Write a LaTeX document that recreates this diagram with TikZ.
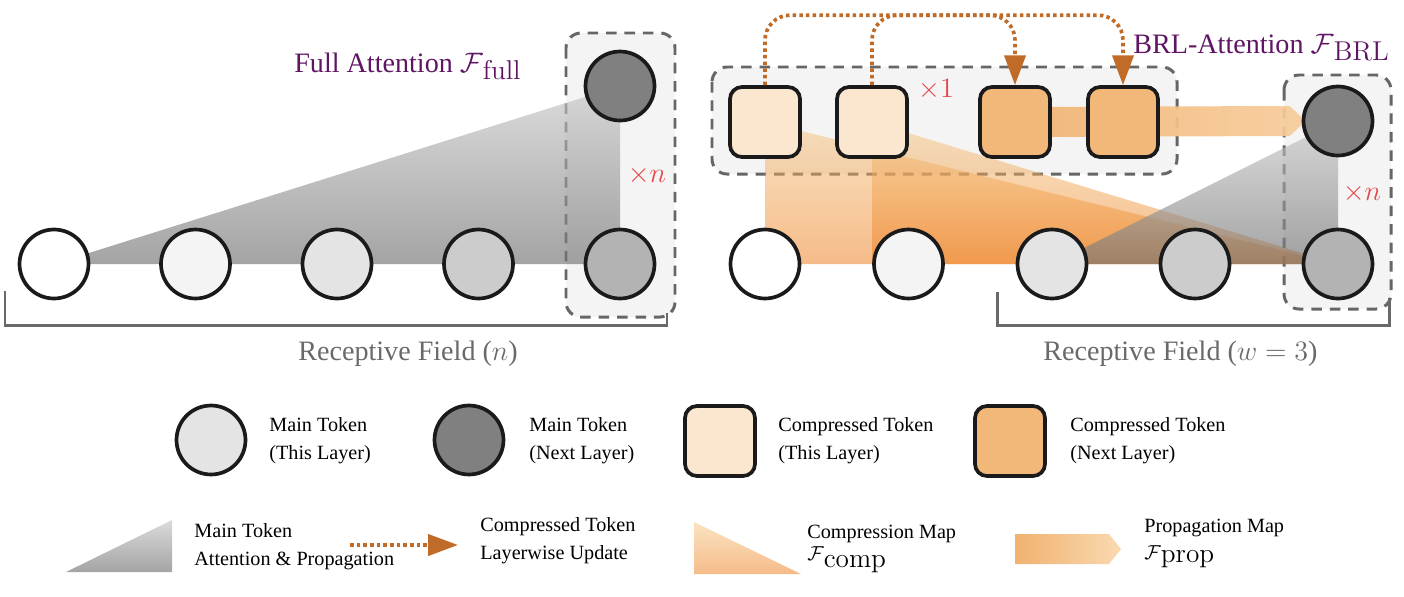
\RequirePackage{fix-cm}
\documentclass[tikz,border=0pt]{standalone}
\usepackage[no-math]{fontspec}
\setmainfont{Liberation Serif}
\usetikzlibrary{arrows.meta,calc}
\pgfdeclarelayer{bg}
\pgfsetlayers{bg,main}
\definecolor{pur}{RGB}{95,20,100}
\definecolor{redx}{RGB}{232,70,72}
\definecolor{rfgray}{RGB}{105,105,105}
\definecolor{boxbg}{RGB}{244,244,244}
\definecolor{boxline}{RGB}{102,102,102}
\definecolor{cthis}{RGB}{251,230,207}
\definecolor{cnext}{RGB}{242,184,122}
\definecolor{arr}{RGB}{192,108,40}
\definecolor{ink}{RGB}{26,26,26}
\definecolor{orTop}{RGB}{246,200,133}
\definecolor{orBot}{RGB}{236,120,20}
\definecolor{gyTop}{RGB}{200,200,200}
\definecolor{gyBot}{RGB}{115,115,115}
\definecolor{prL}{RGB}{240,178,112}
\definecolor{prR}{RGB}{247,204,155}
\definecolor{prR2}{RGB}{250,217,176}
\definecolor{g1}{RGB}{255,255,255}
\definecolor{g2}{RGB}{244,244,244}
\definecolor{g3}{RGB}{228,228,228}
\definecolor{g4}{RGB}{204,204,204}
\definecolor{g5}{RGB}{179,179,179}
\definecolor{g6}{RGB}{128,128,128}
\tikzset{
  tok/.style={circle, draw=ink, line width=2.1pt, minimum size=1.38cm, inner sep=0pt},
  ctok/.style={rectangle, rounded corners=0.24cm, draw=ink, line width=2.1pt, minimum size=1.4cm, inner sep=0pt},
  dbox/.style={draw=boxline, fill=boxbg, line width=1.7pt, dash pattern=on 6pt off 4.5pt, rounded corners=0.3cm},
  upd/.style={draw=arr, line width=2.1pt, dash pattern=on 2pt off 1.8pt, -{Triangle[length=17pt,width=12pt]}},
  cmap/.style={top color=orTop, bottom color=orBot, fill opacity=0.5},
  amap/.style={top color=gyTop, bottom color=gyBot, fill opacity=0.65},
  pmap/.style={left color=prL, right color=prR, fill opacity=0.92},
  brk/.style={draw=rfgray, line width=1.7pt},
  lbl/.style={font=\fontsize{16}{19}\selectfont, inner sep=0pt, anchor=base west},
  xlbl/.style={font=\fontsize{16}{18}\selectfont, text=redx, inner sep=0pt},
  leg/.style={font=\fontsize{11.5}{16}\selectfont, align=left, inner sep=0pt, anchor=west},
  legb/.style={font=\fontsize{11.5}{16}\selectfont, inner sep=0pt, anchor=base west}
}
\newcommand{\Fsub}[2]{$\mathcal{F}$\raisebox{-#2}{\fontsize{15.5}{16}\selectfont$\mathrm{#1}$}}
\begin{document}
\begin{tikzpicture}[x=0.02cm, y=-0.02cm]
\useasboundingbox (0,0) rectangle (1404,596);

% ---- left panel tokens
\node[tok, fill=g1] (l1) at (54,264) {};
\node[tok, fill=g2] (l2) at (195.5,264) {};
\node[tok, fill=g3] (l3) at (337,264) {};
\node[tok, fill=g4] (l4) at (478.5,264) {};
\node[tok, fill=g5] (l5) at (620,264) {};
\node[tok, fill=g6] (lt) at (620,86) {};

% ---- right panel tokens
\node[tok, fill=g1] (r1) at (765,264) {};
\node[tok, fill=g2] (r2) at (908.5,264) {};
\node[tok, fill=g3] (r3) at (1052,264) {};
\node[tok, fill=g4] (r4) at (1195,264) {};
\node[tok, fill=g5] (r5) at (1338,264) {};
\node[tok, fill=g6] (rt) at (1338,121) {};

\node[ctok, fill=cthis] (s1) at (765,122) {};
\node[ctok, fill=cthis] (s2) at (872,122) {};
\node[ctok, fill=cnext] (s3) at (1015,122) {};
\node[ctok, fill=cnext] (s4) at (1123,122) {};

\begin{pgfonlayer}{bg}
  \draw[dbox] (566,33) rectangle (675,317);
  \draw[dbox] (712,67) rectangle (1177,174);
  \draw[dbox] (1284,75) rectangle (1391,309);
  \shade[cmap] (s1.center) -- (r1.center) -- (r5.center) -- cycle;
  \shade[cmap] (s2.center) -- (s2.center |- r1.center) -- (r5.center) -- cycle;
  \shade[amap] (l1.center) -- (lt.center) -- (l5.center) -- cycle;
  \shade[amap] (r3.center) -- (rt.center) -- (r5.center) -- cycle;
  \shade[pmap] ($(s3.center)+(0,-15)$) -- ($(rt.west)+(-12,-15)$) -- ($(rt.west)+(4,0)$)
     -- ($(rt.west)+(-12,15)$) -- ($(s3.center)+(0,15)$) -- cycle;
\end{pgfonlayer}

% ---- layerwise update arrows
\draw[upd, rounded corners=0.5cm] (s1.north) |- ($(s3.north)+(0,-70)$) -- (s3.north);
\draw[upd, rounded corners=0.5cm] (s2.north) |- ($(s4.north)+(0,-70)$) -- (s4.north);

% ---- labels
\node[lbl, text=pur] (tfull) at (294,72) {Full Attention \Fsub{full}{4.5pt}};
\node[lbl, text=pur] (tbrl) at (1133,53) {BRL-Attention \Fsub{BRL}{4.5pt}};
\node[xlbl] (x1) at (936,90) {$\times 1$};
\node[xlbl] (xn1) at (647,175) {$\times n$};
\node[xlbl] (xn2) at (1362,193) {$\times n$};

% ---- receptive fields
\draw[brk] (5,291) -- (5,325) -- (667,325) -- (667,313);
\draw[brk] (997,292) -- (997,325) -- (1389,325) -- (1389,298);
\node[lbl, text=rfgray] (rf1) at (298,360) {Receptive Field ($n$)};
\node[lbl, text=rfgray] (rf2) at (1043,360) {Receptive Field ($w=3$)};

% ---- legend row 1
\node[tok, fill=g3] (k1) at (211,440) {};
\node[leg] (k1t) at (269,441) {Main Token\\(This Layer)};
\node[tok, fill=g6] (k2) at (469,440) {};
\node[leg] (k2t) at (529,441) {Main Token\\(Next Layer)};
\node[ctok, fill=cthis] (k3) at (720,441) {};
\node[leg] (k3t) at (778,441) {Compressed Token\\(This Layer)};
\node[ctok, fill=cnext] (k4) at (1010,441) {};
\node[leg] (k4t) at (1070,441) {Compressed Token\\(Next Layer)};

% ---- legend row 2
\shade[amap] (66,572) -- (172,520) -- (172,572) -- cycle;
\node[leg] (k5t) at (194,547) {Main Token\\Attention \& Propagation};
\coordinate (k6a) at (350,545);
\coordinate (k6b) at (458,545);
\draw[upd] (k6a) -- (k6b);
\node[leg] (k6t) at (480,541) {Compressed Token\\Layerwise Update};
\shade[cmap] (694,522) -- (694,574) -- (801,574) -- cycle;
\node[legb] (k7t) at (807,538) {Compression Map};
\node[legb] (k7m) at (807,560) {\Fsub{comp}{4pt}};
\shade[left color=prL, right color=prR2] (1015,534) -- (1109,534) -- (1121,549) -- (1109,564) -- (1015,564) -- cycle;
\node[legb] (k8t) at (1144,532) {Propagation Map};
\node[legb] (k8m) at (1144,559) {\Fsub{prop}{2pt}};
\end{tikzpicture}
\end{document}
